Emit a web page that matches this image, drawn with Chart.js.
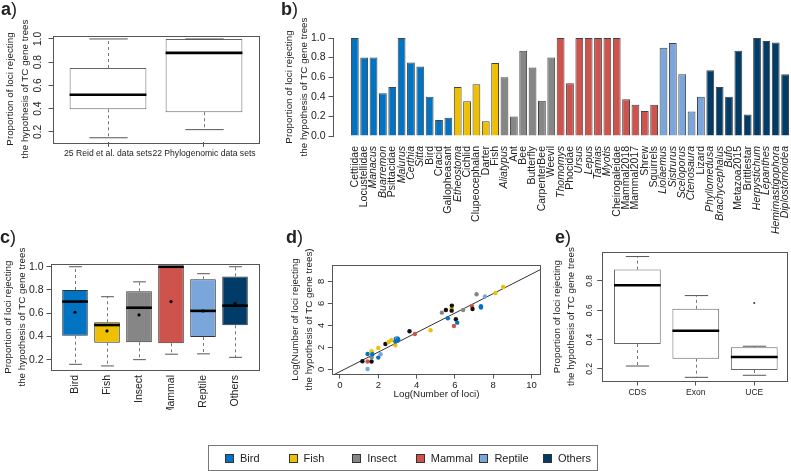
<!DOCTYPE html>
<html>
<head>
<meta charset="utf-8">
<title>Loci rejecting TC gene trees</title>
<script src="https://cdn.jsdelivr.net/npm/chart.js@4.4.1/dist/chart.umd.min.js"></script>
<style>
  body { margin: 0; background: #fff; }
  #fig { position: relative; width: 791px; height: 471px; overflow: hidden; background: #fff;
         font-family: "Liberation Sans", Arial, Helvetica, sans-serif; color: #222; }
  #fig canvas { position: absolute; left: -40px; top: -40px; }
  .tag { position: absolute; font-size: 18px; line-height: 18px; }
  .tag b { font-weight: bold; }
  #legend { position: absolute; left: 208px; top: 445px; width: 390px; height: 26px;
            border: 1px solid #777; box-sizing: border-box; }
  .key { position: absolute; top: 7px; font-size: 11px; line-height: 11px; }
  .key i { position: absolute; left: -15px; top: 1px; width: 7px; height: 7px; border: 1px solid #333; }
</style>
</head>
<body>
<div id="fig">
  <canvas id="ca" width="871" height="551"></canvas>
  <canvas id="cb" width="871" height="551"></canvas>
  <canvas id="cc" width="871" height="551"></canvas>
  <canvas id="cd" width="871" height="551"></canvas>
  <canvas id="ce" width="871" height="551"></canvas>
  <div class="tag" style="left:1px;top:0px"><b>a</b>)</div>
  <div class="tag" style="left:281px;top:0px"><b>b</b>)</div>
  <div class="tag" style="left:0px;top:228px"><b>c</b>)</div>
  <div class="tag" style="left:286px;top:228px"><b>d</b>)</div>
  <div class="tag" style="left:555px;top:228px"><b>e</b>)</div>
  <div id="legend"></div>
</div>
<script>
// groups and colours
const groups = ["Bird", "Fish", "Insect", "Mammal", "Reptile", "Others"];
const groupColors = ["#0073C2", "#EFC000", "#868686", "#CD534C", "#7AA6DC", "#003C67"];
const pointColors = ["#0073C2", "#EFC000", "#868686", "#CD534C", "#7AA6DC", "#111111"];

// a) two box plots
const aLabels = ["25 Reid et al. data sets", "22 Phylogenomic data sets"];
const aLow = [0.15, 0.22];
const aQ1 = [0.395, 0.37];
const aMed = [0.52, 0.88];
const aQ3 = [0.75, 1.0];
const aHigh = [1.0, 1.0];

// b) one bar per data set
const bNames = ["Cettiidae", "Locustellidae", "Manacus", "Buarremon", "Psittacidae", "Malurus", "Certhia", "Sitta", "Bird", "Cracid", "Gallopheasant",
  "Etheostoma", "Cichlid", "Clupeocephalan", "Darter", "Fish",
  "Aliatypus", "Ant", "Bee", "Butterfly", "CarpenterBee", "Weevil",
  "Thomomys", "Phocidae", "Ursus", "Lepus", "Tamias", "Myotis", "Cheirogaleidae", "Mammal2018", "Mammal2017", "Shrew", "Squirrels",
  "Liolaemus", "Sistrurus", "Sceloporus", "Ctenosaura", "Lizard",
  "Phyllomedusa", "Brachycephalus", "Bufo", "Metazoa2015", "Brittlestar", "Herpystichum", "Lepanthes", "Hemimastigophora", "Diplostomoidea"];
const bGroup = [0,0,0,0,0,0,0,0,0,0,0, 1,1,1,1,1, 2,2,2,2,2,2, 3,3,3,3,3,3,3,3,3,3,3, 4,4,4,4,4, 5,5,5,5,5,5,5,5,5];
const bValues = [1.0, 0.8, 0.8, 0.435, 0.5, 1.0, 0.75, 0.71, 0.4, 0.163, 0.187,
  0.5, 0.354, 0.527, 0.15, 0.745,
  0.6, 0.2, 0.87, 0.7, 0.36, 0.8,
  1.0, 0.537, 1.0, 1.0, 1.0, 1.0, 1.0, 0.374, 0.32, 0.255, 0.32,
  0.9, 0.95, 0.63, 0.25, 0.4,
  0.67, 0.5, 0.4, 0.87, 0.22, 1.0, 0.97, 0.955, 0.63];
const bItalic = ["Manacus", "Buarremon", "Malurus", "Certhia", "Sitta", "Etheostoma", "Aliatypus", "Thomomys", "Ursus", "Lepus", "Tamias", "Myotis",
  "Liolaemus", "Sistrurus", "Sceloporus", "Ctenosaura", "Phyllomedusa", "Brachycephalus", "Bufo", "Herpystichum", "Lepanthes", "Hemimastigophora", "Diplostomoidea"];

// c) box plots per group
const cLow = [0.16, 0.146, 0.2, 0.247, 0.25, 0.22];
const cQ1 = [0.406, 0.346, 0.35, 0.341, 0.395, 0.496];
const cMed = [0.70, 0.498, 0.647, 1.0, 0.62, 0.665];
const cQ3 = [0.80, 0.522, 0.788, 1.0, 0.892, 0.917];
const cHigh = [1.0, 0.742, 0.87, 1.0, 0.94, 1.0];
const cMean = [0.608, 0.447, 0.585, 0.70, 0.62, 0.685];

// d) log counts
const dX = [1.17, 1.44, 1.44, 1.44, 1.65, 1.65, 1.65, 1.65, 1.69, 2.0, 2.0, 2.12, 2.37, 2.54, 2.68, 2.89, 2.89, 2.92, 2.99, 3.04, 3.0,
  3.63, 3.91, 4.73, 5.32, 5.53, 5.63, 5.83, 5.84, 5.83, 5.95, 6.05, 6.12, 6.43, 6.89, 6.92, 7.13, 7.36, 7.36, 7.57, 8.12, 8.52];
const dY = [0.73, 0.70, 0.03, 1.39, 0.70, 1.09, 1.55, 1.65, 1.36, 1.06, 1.94, 1.36, 2.30, 2.48, 2.64, 2.18, 2.52, 2.79, 2.85, 2.73, 2.6,
  3.45, 3.21, 3.55, 5.15, 5.39, 4.64, 5.55, 5.79, 5.33, 3.94, 4.55, 4.24, 5.39, 5.76, 5.48, 6.82, 5.61, 5.73, 6.61, 6.94, 7.48];
const dGroup = [5, 3, 4, 0, 5, 2, 1, 1, 0, 0, 1, 4, 5, 1, 1, 1, 0, 0, 4, 0, 0,
  5, 3, 1, 2, 5, 0, 1, 5, 5, 3, 5, 0, 2, 3, 5, 2, 0, 0, 4, 1, 1];
const fitX = [-0.4, 10.48];
const fitY = [-0.564, 9.075];

// e) box plots per marker type
const eLabels = ["CDS", "Exon", "UCE"];
const eLow = [0.22, 0.143, 0.157];
const eQ1 = [0.37, 0.27, 0.193];
const eMed = [0.77, 0.46, 0.282];
const eQ3 = [0.877, 0.61, 0.348];
const eHigh = [0.966, 0.70, 0.355];
const eOutX = [3];
const eOutY = [0.65];

const M = 40, FW = 791, FH = 471;
function pad(f, yW, xH) {
  return { left: f.l + M - yW, top: f.t + M, right: FW + M - f.r, bottom: FH + M - f.b - xH };
}

Chart.defaults.font.family = '"Liberation Sans", Arial, Helvetica, sans-serif';
Chart.defaults.color = '#222';
Chart.defaults.animation = false;
Chart.defaults.responsive = false;
Chart.defaults.devicePixelRatio = 1;
Chart.defaults.plugins.legend.display = false;
Chart.defaults.plugins.tooltip.enabled = false;

const yTitle = ["Proportion of loci rejecting", "the hypothesis of TC gene trees"];
const titleFont = { size: 9.8, lineHeight: 1.48 };

const framePlugin = {
  id: 'frame',
  afterDatasetsDraw(chart, args, opts) {
    if (!opts.show) return;
    const a = chart.chartArea, ctx = chart.ctx;
    ctx.save();
    ctx.strokeStyle = '#555';
    ctx.lineWidth = 1;
    ctx.strokeRect(Math.round(a.left) + 0.5, Math.round(a.top) + 0.5,
      Math.round(a.right - a.left), Math.round(a.bottom - a.top));
    ctx.restore();
  }
};

// whiskers, staples and medians of the box datasets
const whiskerPlugin = {
  id: 'whiskers',
  afterDatasetDraw(chart, args) {
    const st = chart.data.datasets[args.index].stats;
    if (!st) return;
    const ys = chart.scales.y, ctx = chart.ctx;
    const py = v => ys.getPixelForValue(v);
    const seg = (x1, y1, x2, y2) => { ctx.beginPath(); ctx.moveTo(x1, y1); ctx.lineTo(x2, y2); ctx.stroke(); };
    ctx.save();
    args.meta.data.forEach((bar, i) => {
      const x = Math.round(bar.x) + 0.5, hw = bar.width / 2;
      ctx.lineWidth = 1;
      ctx.strokeStyle = '#777';
      ctx.setLineDash([3, 3]);
      seg(x, py(st.q3[i]), x, py(st.high[i]));
      seg(x, py(st.q1[i]), x, py(st.low[i]));
      ctx.setLineDash([]);
      ctx.strokeStyle = '#555';
      seg(x - hw / 2, py(st.high[i]), x + hw / 2, py(st.high[i]));
      seg(x - hw / 2, py(st.low[i]), x + hw / 2, py(st.low[i]));
      ctx.strokeStyle = '#000';
      ctx.lineWidth = 2.6;
      seg(bar.x - hw, py(st.med[i]), bar.x + hw, py(st.med[i]));
    });
    ctx.restore();
  }
};

const tickGrid = { display: true, drawOnChartArea: false, drawTicks: true, tickLength: 4.5, color: '#555', offset: false };

function boxPanel(id, o) {
  const pos = o.labels.map((_, i) => i + 1);
  const datasets = [];
  if (o.means) {
    datasets.push({ type: 'scatter', data: pos.map((x, i) => ({ x, y: o.means[i] })),
      pointRadius: 1.6, pointBackgroundColor: '#000', pointBorderWidth: 0 });
  }
  if (o.outX) {
    datasets.push({ type: 'scatter', data: o.outX.map((x, i) => ({ x, y: o.outY[i] })),
      pointRadius: 1, pointBackgroundColor: '#333', pointBorderWidth: 0 });
  }
  datasets.push({
    type: 'bar',
    data: pos.map((x, i) => ({ x, y: [o.q1[i], o.q3[i]] })),
    backgroundColor: o.fill, borderColor: o.border, borderWidth: 1, borderSkipped: false,
    categoryPercentage: 0.8, barPercentage: 1,
    stats: { low: o.low, q1: o.q1, med: o.med, q3: o.q3, high: o.high }
  });
  new Chart(document.getElementById(id), {
    type: 'bar',
    data: { datasets },
    options: {
      layout: { padding: pad(o.frame, o.yW, o.xH) },
      scales: {
        x: {
          type: 'linear', offset: false, min: o.xMin, max: o.xMax,
          afterBuildTicks: s => { s.ticks = pos.map(v => ({ value: v })); },
          afterFit: s => { s.height = o.xH; },
          grid: o.xTicks ? tickGrid : { display: false, drawTicks: false },
          border: { display: false },
          ticks: Object.assign({ autoSkip: false, callback: (v, i) => o.labels[i] }, o.xTickOpts)
        },
        y: {
          type: 'linear', min: o.yMin, max: o.yMax,
          afterBuildTicks: s => { s.ticks = o.yTicks.map(v => ({ value: v })); },
          afterFit: s => { s.width = o.yW; },
          grid: tickGrid,
          border: { display: false },
          title: { display: true, text: yTitle, font: titleFont, padding: 0, color: '#222' },
          ticks: Object.assign({ callback: v => v.toFixed(1) }, o.yTickOpts)
        }
      },
      plugins: { frame: { show: true } }
    },
    plugins: [framePlugin, whiskerPlugin]
  });
}

// a)
boxPanel('ca', {
  labels: aLabels, low: aLow, q1: aQ1, med: aMed, q3: aQ3, high: aHigh,
  fill: '#fff', border: '#666',
  frame: { l: 53, t: 35.7, r: 259, b: 142.3 }, yW: 49.5, xH: 30,
  xMin: 0.427, xMax: 2.573, yMin: 0.111, yMax: 1.028,
  yTicks: [0.2, 0.4, 0.6, 0.8, 1.0], xTicks: true,
  xTickOpts: { font: { size: 8.6 }, padding: 1.5, maxRotation: 0 },
  yTickOpts: { font: { size: 10.3 }, minRotation: 90, maxRotation: 90, crossAlign: 'center', padding: 3.2 }
});

// c)
boxPanel('cc', {
  labels: groups, low: cLow, q1: cQ1, med: cMed, q3: cQ3, high: cHigh, means: cMean,
  fill: groupColors, border: '#333',
  frame: { l: 51, t: 264.3, r: 258.7, b: 370 }, yW: 50, xH: 40,
  xMin: 0.25, xMax: 6.74, yMin: 0.111, yMax: 1.021,
  yTicks: [0.2, 0.4, 0.6, 0.8, 1.0], xTicks: false,
  xTickOpts: { font: { size: 10.5 }, padding: 5, minRotation: 90, maxRotation: 90 },
  yTickOpts: { font: { size: 10.5 }, padding: 3 }
});

// e)
boxPanel('ce', {
  labels: eLabels, low: eLow, q1: eQ1, med: eMed, q3: eQ3, high: eHigh, outX: eOutX, outY: eOutY,
  fill: '#fff', border: '#666',
  frame: { l: 601.7, t: 252.3, r: 786.7, b: 381 }, yW: 51.7, xH: 20,
  xMin: 0.39, xMax: 3.555, yMin: 0.118, yMax: 0.995,
  yTicks: [0.2, 0.4, 0.6, 0.8], xTicks: true,
  xTickOpts: { font: { size: 8.5 }, padding: 2, maxRotation: 0 },
  yTickOpts: { font: { size: 8.5 }, minRotation: 90, maxRotation: 90, crossAlign: 'center', padding: 1.5 }
});

// b)
const bPos = i => 0.7 + 1.2 * i;
new Chart(document.getElementById('cb'), {
  type: 'bar',
  data: {
    datasets: [{
      data: bNames.map((n, i) => ({ x: bPos(i), y: bValues[i] })),
      backgroundColor: bGroup.map(g => groupColors[g]),
      borderColor: '#444', borderWidth: 1,
      categoryPercentage: 1, barPercentage: 1 / 1.2
    }]
  },
  options: {
    layout: { padding: pad({ l: 333, t: 38, r: 808.2, b: 136 }, 50.7, 100) },
    scales: {
      x: {
        type: 'linear', offset: false, min: -2.1, max: 58.864,
        afterBuildTicks: s => { s.ticks = bNames.map((n, i) => ({ value: bPos(i) })); },
        afterFit: s => { s.height = 100; },
        grid: { display: false, drawTicks: false },
        border: { display: false },
        ticks: {
          autoSkip: false, minRotation: 90, maxRotation: 90, padding: 10,
          callback: (v, i) => bNames[i],
          font: c => ({ size: 10.5, style: bItalic.includes(bNames[c.index]) ? 'italic' : 'normal' })
        }
      },
      y: {
        min: 0, max: 1,
        afterBuildTicks: s => { s.ticks = [0, 0.2, 0.4, 0.6, 0.8, 1.0].map(v => ({ value: v })); },
        afterFit: s => { s.width = 50.7; },
        grid: tickGrid,
        border: { display: true, color: '#555' },
        title: { display: true, text: yTitle, font: titleFont, padding: 0, color: '#222' },
        ticks: { font: { size: 10.5 }, padding: 3, callback: v => v.toFixed(1) }
      }
    }
  }
});

// d)
new Chart(document.getElementById('cd'), {
  type: 'scatter',
  data: {
    datasets: [
      { data: dX.map((x, i) => ({ x, y: dY[i] })), pointRadius: 2.2, pointBorderWidth: 0,
        pointBackgroundColor: dGroup.map(g => pointColors[g]) },
      { type: 'line', data: fitX.map((x, i) => ({ x, y: fitY[i] })), borderColor: '#333', borderWidth: 1, pointRadius: 0 }
    ]
  },
  options: {
    layout: { padding: pad({ l: 332.3, t: 265, r: 540.7, b: 374 }, 44.3, 28) },
    scales: {
      x: {
        min: -0.402, max: 10.48,
        afterBuildTicks: s => { s.ticks = [0, 2, 4, 6, 8, 10].map(v => ({ value: v })); },
        afterFit: s => { s.height = 28; },
        grid: tickGrid,
        border: { display: false },
        title: { display: true, text: "Log(Number of loci)", font: { size: 9.8, lineHeight: 1.48 }, padding: 0, color: '#222' },
        ticks: { font: { size: 9.5 }, padding: 1.5, maxRotation: 0 }
      },
      y: {
        min: -0.43, max: 9.48,
        afterBuildTicks: s => { s.ticks = [0, 2, 4, 6, 8].map(v => ({ value: v })); },
        afterFit: s => { s.width = 44.3; },
        grid: tickGrid,
        border: { display: false },
        title: { display: true, text: ["Log(Number of loci rejecting", "the hypothesis of TC gene trees)"], font: titleFont, padding: 0, color: '#222' },
        ticks: { font: { size: 9.5 }, minRotation: 90, maxRotation: 90, crossAlign: 'center', padding: 3.3 }
      }
    },
    plugins: { frame: { show: true } }
  },
  plugins: [framePlugin]
});

// legend
const legend = document.getElementById('legend');
groups.forEach((g, i) => {
  const k = document.createElement('div');
  k.className = 'key';
  k.style.left = (225 + 63.6 * i + 14 - 208) + 'px';
  k.innerHTML = '<i style="background:' + groupColors[i] + '"></i>' + g;
  legend.appendChild(k);
});
</script>
</body>
</html>
